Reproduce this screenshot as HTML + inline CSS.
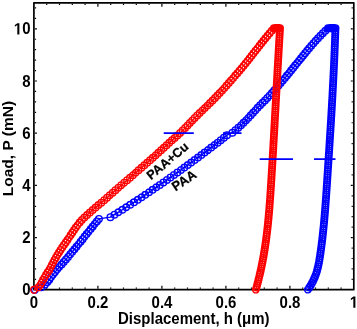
<!DOCTYPE html>
<html><head><meta charset="utf-8"><style>
html,body{margin:0;padding:0;background:#fff;width:357px;height:329px;overflow:hidden}
svg{display:block;will-change:transform}
</style></head><body>
<svg width="357" height="329" viewBox="0 0 357 329">
<rect x="33.9" y="2.8" width="319.90000000000003" height="286.9" fill="none" stroke="#000" stroke-width="1.7" stroke-linejoin="round"/>
<path d="M46.70,288.7v-1.2M46.70,3.8v1.2M59.50,288.7v-1.2M59.50,3.8v1.2M72.30,288.7v-1.2M72.30,3.8v1.2M85.10,288.7v-1.2M85.10,3.8v1.2M97.90,288.7v-3M97.90,3.8v3M110.70,288.7v-1.2M110.70,3.8v1.2M123.50,288.7v-1.2M123.50,3.8v1.2M136.30,288.7v-1.2M136.30,3.8v1.2M149.10,288.7v-1.2M149.10,3.8v1.2M161.90,288.7v-3M161.90,3.8v3M174.70,288.7v-1.2M174.70,3.8v1.2M187.50,288.7v-1.2M187.50,3.8v1.2M200.30,288.7v-1.2M200.30,3.8v1.2M213.10,288.7v-1.2M213.10,3.8v1.2M225.90,288.7v-3M225.90,3.8v3M238.70,288.7v-1.2M238.70,3.8v1.2M251.50,288.7v-1.2M251.50,3.8v1.2M264.30,288.7v-1.2M264.30,3.8v1.2M277.10,288.7v-1.2M277.10,3.8v1.2M289.90,288.7v-3M289.90,3.8v3M302.70,288.7v-1.2M302.70,3.8v1.2M315.50,288.7v-1.2M315.50,3.8v1.2M328.30,288.7v-1.2M328.30,3.8v1.2M341.10,288.7v-1.2M341.10,3.8v1.2M34.9,279.36h1.2M352.8,279.36h-1.2M34.9,268.92h1.2M352.8,268.92h-1.2M34.9,258.48h1.2M352.8,258.48h-1.2M34.9,248.04h1.2M352.8,248.04h-1.2M34.9,237.60h2M352.8,237.60h-2M34.9,227.16h1.2M352.8,227.16h-1.2M34.9,216.72h1.2M352.8,216.72h-1.2M34.9,206.28h1.2M352.8,206.28h-1.2M34.9,195.84h1.2M352.8,195.84h-1.2M34.9,185.40h2M352.8,185.40h-2M34.9,174.96h1.2M352.8,174.96h-1.2M34.9,164.52h1.2M352.8,164.52h-1.2M34.9,154.08h1.2M352.8,154.08h-1.2M34.9,143.64h1.2M352.8,143.64h-1.2M34.9,133.20h2M352.8,133.20h-2M34.9,122.76h1.2M352.8,122.76h-1.2M34.9,112.32h1.2M352.8,112.32h-1.2M34.9,101.88h1.2M352.8,101.88h-1.2M34.9,91.44h1.2M352.8,91.44h-1.2M34.9,81.00h2M352.8,81.00h-2M34.9,70.56h1.2M352.8,70.56h-1.2M34.9,60.12h1.2M352.8,60.12h-1.2M34.9,49.68h1.2M352.8,49.68h-1.2M34.9,39.24h1.2M352.8,39.24h-1.2M34.9,28.80h2M352.8,28.80h-2M34.9,18.36h1.2M352.8,18.36h-1.2M34.9,7.92h1.2M352.8,7.92h-1.2" stroke="#000" stroke-width="1.2" fill="none"/>
<path d="M34.94,289.80L41.20,287.27L45.10,284.74L47.51,282.20L49.30,279.67L51.12,277.14L53.07,274.61L55.10,272.07L57.21,269.54L59.37,267.01L61.56,264.48L63.76,261.95L65.95,259.41L68.11,256.88L70.24,254.35L72.34,251.82L74.43,249.29L76.50,246.75L78.55,244.22L80.59,241.69L82.62,239.16L84.65,236.62L86.67,234.09L88.70,231.56L90.72,229.03L92.75,226.50L94.80,223.96L96.85,221.43L98.92,218.90L110.39,217.20L114.44,214.71L118.44,212.23L122.40,209.74L126.31,207.26L130.18,204.77L134.00,202.29L137.79,199.80L141.54,197.32L145.25,194.83L148.94,192.34L152.59,189.86L156.21,187.37L159.80,184.89L163.37,182.40L166.91,179.92L170.43,177.43L173.93,174.95L177.42,172.46L180.88,169.97L184.33,167.49L187.77,165.00L191.18,162.52L194.58,160.03L197.95,157.55L201.30,155.06L204.62,152.58L207.92,150.09L211.18,147.61L214.41,145.12L217.61,142.63L220.76,140.15L223.88,137.66L226.96,135.18L232.40,132.69L235.39,130.21L238.34,127.72L241.01,125.24L243.54,122.75L246.02,120.26L248.44,117.78L250.81,115.29L253.13,112.81L255.40,110.32L257.64,107.84L260.13,105.35L262.57,102.87L264.97,100.38L267.33,97.89L269.65,95.41L271.93,92.92L274.18,90.44L276.39,87.95L278.57,85.47L280.72,82.98L282.85,80.50L284.94,78.01L287.01,75.53L289.06,73.04L291.08,70.55L293.09,68.07L295.08,65.58L297.06,63.10L299.05,60.61L301.04,58.13L303.04,55.64L305.07,53.16L307.12,50.67L309.21,48.18L311.34,45.70L313.52,43.21L315.75,40.73L318.05,38.24L320.42,35.76L322.87,33.27L325.39,30.79L328.01,28.30L329.29,28.30L330.17,28.30L331.06,28.30L331.95,28.30L332.84,28.30L333.73,28.30L334.61,28.30L335.50,28.30L335.35,30.41L335.28,32.51L335.21,34.62L335.14,36.73L335.06,38.84L334.99,40.94L334.91,43.05L334.83,45.16L334.74,47.27L334.66,49.37L334.58,51.48L334.49,53.59L334.40,55.69L334.31,57.80L334.22,59.91L334.12,62.02L334.03,64.12L333.93,66.23L333.83,68.34L333.73,70.45L333.63,72.55L333.53,74.66L333.42,76.77L333.32,78.87L333.21,80.98L333.10,83.09L332.99,85.20L332.88,87.30L332.77,89.41L332.66,91.52L332.54,93.62L332.43,95.73L332.31,97.84L332.20,99.95L332.08,102.05L331.96,104.16L331.84,106.27L331.72,108.38L331.59,110.48L331.47,112.59L331.35,114.70L331.22,116.80L331.09,118.91L330.97,121.02L330.84,123.13L330.71,125.23L330.58,127.34L330.45,129.45L330.32,131.56L330.19,133.66L330.06,135.77L329.93,137.88L329.79,139.98L329.66,142.09L329.53,144.20L329.39,146.31L329.26,148.41L329.12,150.52L328.99,152.63L328.85,154.74L328.71,156.84L328.58,158.95L328.44,161.06L328.30,163.16L328.16,165.27L328.03,167.38L327.89,169.49L327.75,171.59L327.61,173.70L327.47,175.81L327.33,177.92L327.20,180.02L327.06,182.13L326.92,184.24L326.78,186.34L326.64,188.45L326.50,190.56L326.35,192.67L326.21,194.77L326.06,196.88L325.91,198.99L325.76,201.10L325.61,203.20L325.45,205.31L325.29,207.42L325.13,209.52L324.96,211.63L324.79,213.74L324.61,215.85L324.43,217.95L324.24,220.06L324.05,222.17L323.85,224.28L323.65,226.38L323.44,228.49L323.22,230.60L323.00,232.70L322.77,234.81L322.54,236.92L322.29,239.03L322.04,241.13L321.78,243.24L321.51,245.35L321.24,247.45L320.95,249.56L320.66,251.67L320.35,253.78L320.04,255.88L319.71,257.99L319.36,260.10L318.99,262.21L318.57,264.31L318.12,266.42L317.60,268.53L317.03,270.63L316.39,272.74L315.68,274.85L314.87,276.96L313.98,279.06L312.99,281.17L311.89,283.28L310.67,285.39L309.33,287.49L307.86,289.60" fill="none" stroke="#0000ff" stroke-width="1.4"/>
<path d="M31.64,289.80a3.3,3.3 0 1,0 6.6,0a3.3,3.3 0 1,0 -6.6,0M37.90,287.27a3.3,3.3 0 1,0 6.6,0a3.3,3.3 0 1,0 -6.6,0M41.80,284.74a3.3,3.3 0 1,0 6.6,0a3.3,3.3 0 1,0 -6.6,0M44.21,282.20a3.3,3.3 0 1,0 6.6,0a3.3,3.3 0 1,0 -6.6,0M46.00,279.67a3.3,3.3 0 1,0 6.6,0a3.3,3.3 0 1,0 -6.6,0M47.82,277.14a3.3,3.3 0 1,0 6.6,0a3.3,3.3 0 1,0 -6.6,0M49.77,274.61a3.3,3.3 0 1,0 6.6,0a3.3,3.3 0 1,0 -6.6,0M51.80,272.07a3.3,3.3 0 1,0 6.6,0a3.3,3.3 0 1,0 -6.6,0M53.91,269.54a3.3,3.3 0 1,0 6.6,0a3.3,3.3 0 1,0 -6.6,0M56.07,267.01a3.3,3.3 0 1,0 6.6,0a3.3,3.3 0 1,0 -6.6,0M58.26,264.48a3.3,3.3 0 1,0 6.6,0a3.3,3.3 0 1,0 -6.6,0M60.46,261.95a3.3,3.3 0 1,0 6.6,0a3.3,3.3 0 1,0 -6.6,0M62.65,259.41a3.3,3.3 0 1,0 6.6,0a3.3,3.3 0 1,0 -6.6,0M64.81,256.88a3.3,3.3 0 1,0 6.6,0a3.3,3.3 0 1,0 -6.6,0M66.94,254.35a3.3,3.3 0 1,0 6.6,0a3.3,3.3 0 1,0 -6.6,0M69.04,251.82a3.3,3.3 0 1,0 6.6,0a3.3,3.3 0 1,0 -6.6,0M71.13,249.29a3.3,3.3 0 1,0 6.6,0a3.3,3.3 0 1,0 -6.6,0M73.20,246.75a3.3,3.3 0 1,0 6.6,0a3.3,3.3 0 1,0 -6.6,0M75.25,244.22a3.3,3.3 0 1,0 6.6,0a3.3,3.3 0 1,0 -6.6,0M77.29,241.69a3.3,3.3 0 1,0 6.6,0a3.3,3.3 0 1,0 -6.6,0M79.32,239.16a3.3,3.3 0 1,0 6.6,0a3.3,3.3 0 1,0 -6.6,0M81.35,236.62a3.3,3.3 0 1,0 6.6,0a3.3,3.3 0 1,0 -6.6,0M83.37,234.09a3.3,3.3 0 1,0 6.6,0a3.3,3.3 0 1,0 -6.6,0M85.40,231.56a3.3,3.3 0 1,0 6.6,0a3.3,3.3 0 1,0 -6.6,0M87.42,229.03a3.3,3.3 0 1,0 6.6,0a3.3,3.3 0 1,0 -6.6,0M89.45,226.50a3.3,3.3 0 1,0 6.6,0a3.3,3.3 0 1,0 -6.6,0M91.50,223.96a3.3,3.3 0 1,0 6.6,0a3.3,3.3 0 1,0 -6.6,0M93.55,221.43a3.3,3.3 0 1,0 6.6,0a3.3,3.3 0 1,0 -6.6,0M95.62,218.90a3.3,3.3 0 1,0 6.6,0a3.3,3.3 0 1,0 -6.6,0M107.09,217.20a3.3,3.3 0 1,0 6.6,0a3.3,3.3 0 1,0 -6.6,0M111.14,214.71a3.3,3.3 0 1,0 6.6,0a3.3,3.3 0 1,0 -6.6,0M115.14,212.23a3.3,3.3 0 1,0 6.6,0a3.3,3.3 0 1,0 -6.6,0M119.10,209.74a3.3,3.3 0 1,0 6.6,0a3.3,3.3 0 1,0 -6.6,0M123.01,207.26a3.3,3.3 0 1,0 6.6,0a3.3,3.3 0 1,0 -6.6,0M126.88,204.77a3.3,3.3 0 1,0 6.6,0a3.3,3.3 0 1,0 -6.6,0M130.70,202.29a3.3,3.3 0 1,0 6.6,0a3.3,3.3 0 1,0 -6.6,0M134.49,199.80a3.3,3.3 0 1,0 6.6,0a3.3,3.3 0 1,0 -6.6,0M138.24,197.32a3.3,3.3 0 1,0 6.6,0a3.3,3.3 0 1,0 -6.6,0M141.95,194.83a3.3,3.3 0 1,0 6.6,0a3.3,3.3 0 1,0 -6.6,0M145.64,192.34a3.3,3.3 0 1,0 6.6,0a3.3,3.3 0 1,0 -6.6,0M149.29,189.86a3.3,3.3 0 1,0 6.6,0a3.3,3.3 0 1,0 -6.6,0M152.91,187.37a3.3,3.3 0 1,0 6.6,0a3.3,3.3 0 1,0 -6.6,0M156.50,184.89a3.3,3.3 0 1,0 6.6,0a3.3,3.3 0 1,0 -6.6,0M160.07,182.40a3.3,3.3 0 1,0 6.6,0a3.3,3.3 0 1,0 -6.6,0M163.61,179.92a3.3,3.3 0 1,0 6.6,0a3.3,3.3 0 1,0 -6.6,0M167.13,177.43a3.3,3.3 0 1,0 6.6,0a3.3,3.3 0 1,0 -6.6,0M170.63,174.95a3.3,3.3 0 1,0 6.6,0a3.3,3.3 0 1,0 -6.6,0M174.12,172.46a3.3,3.3 0 1,0 6.6,0a3.3,3.3 0 1,0 -6.6,0M177.58,169.97a3.3,3.3 0 1,0 6.6,0a3.3,3.3 0 1,0 -6.6,0M181.03,167.49a3.3,3.3 0 1,0 6.6,0a3.3,3.3 0 1,0 -6.6,0M184.47,165.00a3.3,3.3 0 1,0 6.6,0a3.3,3.3 0 1,0 -6.6,0M187.88,162.52a3.3,3.3 0 1,0 6.6,0a3.3,3.3 0 1,0 -6.6,0M191.28,160.03a3.3,3.3 0 1,0 6.6,0a3.3,3.3 0 1,0 -6.6,0M194.65,157.55a3.3,3.3 0 1,0 6.6,0a3.3,3.3 0 1,0 -6.6,0M198.00,155.06a3.3,3.3 0 1,0 6.6,0a3.3,3.3 0 1,0 -6.6,0M201.32,152.58a3.3,3.3 0 1,0 6.6,0a3.3,3.3 0 1,0 -6.6,0M204.62,150.09a3.3,3.3 0 1,0 6.6,0a3.3,3.3 0 1,0 -6.6,0M207.88,147.61a3.3,3.3 0 1,0 6.6,0a3.3,3.3 0 1,0 -6.6,0M211.11,145.12a3.3,3.3 0 1,0 6.6,0a3.3,3.3 0 1,0 -6.6,0M214.31,142.63a3.3,3.3 0 1,0 6.6,0a3.3,3.3 0 1,0 -6.6,0M217.46,140.15a3.3,3.3 0 1,0 6.6,0a3.3,3.3 0 1,0 -6.6,0M220.58,137.66a3.3,3.3 0 1,0 6.6,0a3.3,3.3 0 1,0 -6.6,0M223.66,135.18a3.3,3.3 0 1,0 6.6,0a3.3,3.3 0 1,0 -6.6,0M229.10,132.69a3.3,3.3 0 1,0 6.6,0a3.3,3.3 0 1,0 -6.6,0M232.09,130.21a3.3,3.3 0 1,0 6.6,0a3.3,3.3 0 1,0 -6.6,0M235.04,127.72a3.3,3.3 0 1,0 6.6,0a3.3,3.3 0 1,0 -6.6,0M237.71,125.24a3.3,3.3 0 1,0 6.6,0a3.3,3.3 0 1,0 -6.6,0M240.24,122.75a3.3,3.3 0 1,0 6.6,0a3.3,3.3 0 1,0 -6.6,0M242.72,120.26a3.3,3.3 0 1,0 6.6,0a3.3,3.3 0 1,0 -6.6,0M245.14,117.78a3.3,3.3 0 1,0 6.6,0a3.3,3.3 0 1,0 -6.6,0M247.51,115.29a3.3,3.3 0 1,0 6.6,0a3.3,3.3 0 1,0 -6.6,0M249.83,112.81a3.3,3.3 0 1,0 6.6,0a3.3,3.3 0 1,0 -6.6,0M252.10,110.32a3.3,3.3 0 1,0 6.6,0a3.3,3.3 0 1,0 -6.6,0M254.34,107.84a3.3,3.3 0 1,0 6.6,0a3.3,3.3 0 1,0 -6.6,0M256.83,105.35a3.3,3.3 0 1,0 6.6,0a3.3,3.3 0 1,0 -6.6,0M259.27,102.87a3.3,3.3 0 1,0 6.6,0a3.3,3.3 0 1,0 -6.6,0M261.67,100.38a3.3,3.3 0 1,0 6.6,0a3.3,3.3 0 1,0 -6.6,0M264.03,97.89a3.3,3.3 0 1,0 6.6,0a3.3,3.3 0 1,0 -6.6,0M266.35,95.41a3.3,3.3 0 1,0 6.6,0a3.3,3.3 0 1,0 -6.6,0M268.63,92.92a3.3,3.3 0 1,0 6.6,0a3.3,3.3 0 1,0 -6.6,0M270.88,90.44a3.3,3.3 0 1,0 6.6,0a3.3,3.3 0 1,0 -6.6,0M273.09,87.95a3.3,3.3 0 1,0 6.6,0a3.3,3.3 0 1,0 -6.6,0M275.27,85.47a3.3,3.3 0 1,0 6.6,0a3.3,3.3 0 1,0 -6.6,0M277.42,82.98a3.3,3.3 0 1,0 6.6,0a3.3,3.3 0 1,0 -6.6,0M279.55,80.50a3.3,3.3 0 1,0 6.6,0a3.3,3.3 0 1,0 -6.6,0M281.64,78.01a3.3,3.3 0 1,0 6.6,0a3.3,3.3 0 1,0 -6.6,0M283.71,75.53a3.3,3.3 0 1,0 6.6,0a3.3,3.3 0 1,0 -6.6,0M285.76,73.04a3.3,3.3 0 1,0 6.6,0a3.3,3.3 0 1,0 -6.6,0M287.78,70.55a3.3,3.3 0 1,0 6.6,0a3.3,3.3 0 1,0 -6.6,0M289.79,68.07a3.3,3.3 0 1,0 6.6,0a3.3,3.3 0 1,0 -6.6,0M291.78,65.58a3.3,3.3 0 1,0 6.6,0a3.3,3.3 0 1,0 -6.6,0M293.76,63.10a3.3,3.3 0 1,0 6.6,0a3.3,3.3 0 1,0 -6.6,0M295.75,60.61a3.3,3.3 0 1,0 6.6,0a3.3,3.3 0 1,0 -6.6,0M297.74,58.13a3.3,3.3 0 1,0 6.6,0a3.3,3.3 0 1,0 -6.6,0M299.74,55.64a3.3,3.3 0 1,0 6.6,0a3.3,3.3 0 1,0 -6.6,0M301.77,53.16a3.3,3.3 0 1,0 6.6,0a3.3,3.3 0 1,0 -6.6,0M303.82,50.67a3.3,3.3 0 1,0 6.6,0a3.3,3.3 0 1,0 -6.6,0M305.91,48.18a3.3,3.3 0 1,0 6.6,0a3.3,3.3 0 1,0 -6.6,0M308.04,45.70a3.3,3.3 0 1,0 6.6,0a3.3,3.3 0 1,0 -6.6,0M310.22,43.21a3.3,3.3 0 1,0 6.6,0a3.3,3.3 0 1,0 -6.6,0M312.45,40.73a3.3,3.3 0 1,0 6.6,0a3.3,3.3 0 1,0 -6.6,0M314.75,38.24a3.3,3.3 0 1,0 6.6,0a3.3,3.3 0 1,0 -6.6,0M317.12,35.76a3.3,3.3 0 1,0 6.6,0a3.3,3.3 0 1,0 -6.6,0M319.57,33.27a3.3,3.3 0 1,0 6.6,0a3.3,3.3 0 1,0 -6.6,0M322.09,30.79a3.3,3.3 0 1,0 6.6,0a3.3,3.3 0 1,0 -6.6,0M324.71,28.30a3.3,3.3 0 1,0 6.6,0a3.3,3.3 0 1,0 -6.6,0M325.99,28.30a3.3,3.3 0 1,0 6.6,0a3.3,3.3 0 1,0 -6.6,0M326.87,28.30a3.3,3.3 0 1,0 6.6,0a3.3,3.3 0 1,0 -6.6,0M327.76,28.30a3.3,3.3 0 1,0 6.6,0a3.3,3.3 0 1,0 -6.6,0M328.65,28.30a3.3,3.3 0 1,0 6.6,0a3.3,3.3 0 1,0 -6.6,0M329.54,28.30a3.3,3.3 0 1,0 6.6,0a3.3,3.3 0 1,0 -6.6,0M330.43,28.30a3.3,3.3 0 1,0 6.6,0a3.3,3.3 0 1,0 -6.6,0M331.31,28.30a3.3,3.3 0 1,0 6.6,0a3.3,3.3 0 1,0 -6.6,0M332.20,28.30a3.3,3.3 0 1,0 6.6,0a3.3,3.3 0 1,0 -6.6,0M332.05,30.41a3.3,3.3 0 1,0 6.6,0a3.3,3.3 0 1,0 -6.6,0M331.98,32.51a3.3,3.3 0 1,0 6.6,0a3.3,3.3 0 1,0 -6.6,0M331.91,34.62a3.3,3.3 0 1,0 6.6,0a3.3,3.3 0 1,0 -6.6,0M331.84,36.73a3.3,3.3 0 1,0 6.6,0a3.3,3.3 0 1,0 -6.6,0M331.76,38.84a3.3,3.3 0 1,0 6.6,0a3.3,3.3 0 1,0 -6.6,0M331.69,40.94a3.3,3.3 0 1,0 6.6,0a3.3,3.3 0 1,0 -6.6,0M331.61,43.05a3.3,3.3 0 1,0 6.6,0a3.3,3.3 0 1,0 -6.6,0M331.53,45.16a3.3,3.3 0 1,0 6.6,0a3.3,3.3 0 1,0 -6.6,0M331.44,47.27a3.3,3.3 0 1,0 6.6,0a3.3,3.3 0 1,0 -6.6,0M331.36,49.37a3.3,3.3 0 1,0 6.6,0a3.3,3.3 0 1,0 -6.6,0M331.28,51.48a3.3,3.3 0 1,0 6.6,0a3.3,3.3 0 1,0 -6.6,0M331.19,53.59a3.3,3.3 0 1,0 6.6,0a3.3,3.3 0 1,0 -6.6,0M331.10,55.69a3.3,3.3 0 1,0 6.6,0a3.3,3.3 0 1,0 -6.6,0M331.01,57.80a3.3,3.3 0 1,0 6.6,0a3.3,3.3 0 1,0 -6.6,0M330.92,59.91a3.3,3.3 0 1,0 6.6,0a3.3,3.3 0 1,0 -6.6,0M330.82,62.02a3.3,3.3 0 1,0 6.6,0a3.3,3.3 0 1,0 -6.6,0M330.73,64.12a3.3,3.3 0 1,0 6.6,0a3.3,3.3 0 1,0 -6.6,0M330.63,66.23a3.3,3.3 0 1,0 6.6,0a3.3,3.3 0 1,0 -6.6,0M330.53,68.34a3.3,3.3 0 1,0 6.6,0a3.3,3.3 0 1,0 -6.6,0M330.43,70.45a3.3,3.3 0 1,0 6.6,0a3.3,3.3 0 1,0 -6.6,0M330.33,72.55a3.3,3.3 0 1,0 6.6,0a3.3,3.3 0 1,0 -6.6,0M330.23,74.66a3.3,3.3 0 1,0 6.6,0a3.3,3.3 0 1,0 -6.6,0M330.12,76.77a3.3,3.3 0 1,0 6.6,0a3.3,3.3 0 1,0 -6.6,0M330.02,78.87a3.3,3.3 0 1,0 6.6,0a3.3,3.3 0 1,0 -6.6,0M329.91,80.98a3.3,3.3 0 1,0 6.6,0a3.3,3.3 0 1,0 -6.6,0M329.80,83.09a3.3,3.3 0 1,0 6.6,0a3.3,3.3 0 1,0 -6.6,0M329.69,85.20a3.3,3.3 0 1,0 6.6,0a3.3,3.3 0 1,0 -6.6,0M329.58,87.30a3.3,3.3 0 1,0 6.6,0a3.3,3.3 0 1,0 -6.6,0M329.47,89.41a3.3,3.3 0 1,0 6.6,0a3.3,3.3 0 1,0 -6.6,0M329.36,91.52a3.3,3.3 0 1,0 6.6,0a3.3,3.3 0 1,0 -6.6,0M329.24,93.62a3.3,3.3 0 1,0 6.6,0a3.3,3.3 0 1,0 -6.6,0M329.13,95.73a3.3,3.3 0 1,0 6.6,0a3.3,3.3 0 1,0 -6.6,0M329.01,97.84a3.3,3.3 0 1,0 6.6,0a3.3,3.3 0 1,0 -6.6,0M328.90,99.95a3.3,3.3 0 1,0 6.6,0a3.3,3.3 0 1,0 -6.6,0M328.78,102.05a3.3,3.3 0 1,0 6.6,0a3.3,3.3 0 1,0 -6.6,0M328.66,104.16a3.3,3.3 0 1,0 6.6,0a3.3,3.3 0 1,0 -6.6,0M328.54,106.27a3.3,3.3 0 1,0 6.6,0a3.3,3.3 0 1,0 -6.6,0M328.42,108.38a3.3,3.3 0 1,0 6.6,0a3.3,3.3 0 1,0 -6.6,0M328.29,110.48a3.3,3.3 0 1,0 6.6,0a3.3,3.3 0 1,0 -6.6,0M328.17,112.59a3.3,3.3 0 1,0 6.6,0a3.3,3.3 0 1,0 -6.6,0M328.05,114.70a3.3,3.3 0 1,0 6.6,0a3.3,3.3 0 1,0 -6.6,0M327.92,116.80a3.3,3.3 0 1,0 6.6,0a3.3,3.3 0 1,0 -6.6,0M327.79,118.91a3.3,3.3 0 1,0 6.6,0a3.3,3.3 0 1,0 -6.6,0M327.67,121.02a3.3,3.3 0 1,0 6.6,0a3.3,3.3 0 1,0 -6.6,0M327.54,123.13a3.3,3.3 0 1,0 6.6,0a3.3,3.3 0 1,0 -6.6,0M327.41,125.23a3.3,3.3 0 1,0 6.6,0a3.3,3.3 0 1,0 -6.6,0M327.28,127.34a3.3,3.3 0 1,0 6.6,0a3.3,3.3 0 1,0 -6.6,0M327.15,129.45a3.3,3.3 0 1,0 6.6,0a3.3,3.3 0 1,0 -6.6,0M327.02,131.56a3.3,3.3 0 1,0 6.6,0a3.3,3.3 0 1,0 -6.6,0M326.89,133.66a3.3,3.3 0 1,0 6.6,0a3.3,3.3 0 1,0 -6.6,0M326.76,135.77a3.3,3.3 0 1,0 6.6,0a3.3,3.3 0 1,0 -6.6,0M326.63,137.88a3.3,3.3 0 1,0 6.6,0a3.3,3.3 0 1,0 -6.6,0M326.49,139.98a3.3,3.3 0 1,0 6.6,0a3.3,3.3 0 1,0 -6.6,0M326.36,142.09a3.3,3.3 0 1,0 6.6,0a3.3,3.3 0 1,0 -6.6,0M326.23,144.20a3.3,3.3 0 1,0 6.6,0a3.3,3.3 0 1,0 -6.6,0M326.09,146.31a3.3,3.3 0 1,0 6.6,0a3.3,3.3 0 1,0 -6.6,0M325.96,148.41a3.3,3.3 0 1,0 6.6,0a3.3,3.3 0 1,0 -6.6,0M325.82,150.52a3.3,3.3 0 1,0 6.6,0a3.3,3.3 0 1,0 -6.6,0M325.69,152.63a3.3,3.3 0 1,0 6.6,0a3.3,3.3 0 1,0 -6.6,0M325.55,154.74a3.3,3.3 0 1,0 6.6,0a3.3,3.3 0 1,0 -6.6,0M325.41,156.84a3.3,3.3 0 1,0 6.6,0a3.3,3.3 0 1,0 -6.6,0M325.28,158.95a3.3,3.3 0 1,0 6.6,0a3.3,3.3 0 1,0 -6.6,0M325.14,161.06a3.3,3.3 0 1,0 6.6,0a3.3,3.3 0 1,0 -6.6,0M325.00,163.16a3.3,3.3 0 1,0 6.6,0a3.3,3.3 0 1,0 -6.6,0M324.86,165.27a3.3,3.3 0 1,0 6.6,0a3.3,3.3 0 1,0 -6.6,0M324.73,167.38a3.3,3.3 0 1,0 6.6,0a3.3,3.3 0 1,0 -6.6,0M324.59,169.49a3.3,3.3 0 1,0 6.6,0a3.3,3.3 0 1,0 -6.6,0M324.45,171.59a3.3,3.3 0 1,0 6.6,0a3.3,3.3 0 1,0 -6.6,0M324.31,173.70a3.3,3.3 0 1,0 6.6,0a3.3,3.3 0 1,0 -6.6,0M324.17,175.81a3.3,3.3 0 1,0 6.6,0a3.3,3.3 0 1,0 -6.6,0M324.03,177.92a3.3,3.3 0 1,0 6.6,0a3.3,3.3 0 1,0 -6.6,0M323.90,180.02a3.3,3.3 0 1,0 6.6,0a3.3,3.3 0 1,0 -6.6,0M323.76,182.13a3.3,3.3 0 1,0 6.6,0a3.3,3.3 0 1,0 -6.6,0M323.62,184.24a3.3,3.3 0 1,0 6.6,0a3.3,3.3 0 1,0 -6.6,0M323.48,186.34a3.3,3.3 0 1,0 6.6,0a3.3,3.3 0 1,0 -6.6,0M323.34,188.45a3.3,3.3 0 1,0 6.6,0a3.3,3.3 0 1,0 -6.6,0M323.20,190.56a3.3,3.3 0 1,0 6.6,0a3.3,3.3 0 1,0 -6.6,0M323.05,192.67a3.3,3.3 0 1,0 6.6,0a3.3,3.3 0 1,0 -6.6,0M322.91,194.77a3.3,3.3 0 1,0 6.6,0a3.3,3.3 0 1,0 -6.6,0M322.76,196.88a3.3,3.3 0 1,0 6.6,0a3.3,3.3 0 1,0 -6.6,0M322.61,198.99a3.3,3.3 0 1,0 6.6,0a3.3,3.3 0 1,0 -6.6,0M322.46,201.10a3.3,3.3 0 1,0 6.6,0a3.3,3.3 0 1,0 -6.6,0M322.31,203.20a3.3,3.3 0 1,0 6.6,0a3.3,3.3 0 1,0 -6.6,0M322.15,205.31a3.3,3.3 0 1,0 6.6,0a3.3,3.3 0 1,0 -6.6,0M321.99,207.42a3.3,3.3 0 1,0 6.6,0a3.3,3.3 0 1,0 -6.6,0M321.83,209.52a3.3,3.3 0 1,0 6.6,0a3.3,3.3 0 1,0 -6.6,0M321.66,211.63a3.3,3.3 0 1,0 6.6,0a3.3,3.3 0 1,0 -6.6,0M321.49,213.74a3.3,3.3 0 1,0 6.6,0a3.3,3.3 0 1,0 -6.6,0M321.31,215.85a3.3,3.3 0 1,0 6.6,0a3.3,3.3 0 1,0 -6.6,0M321.13,217.95a3.3,3.3 0 1,0 6.6,0a3.3,3.3 0 1,0 -6.6,0M320.94,220.06a3.3,3.3 0 1,0 6.6,0a3.3,3.3 0 1,0 -6.6,0M320.75,222.17a3.3,3.3 0 1,0 6.6,0a3.3,3.3 0 1,0 -6.6,0M320.55,224.28a3.3,3.3 0 1,0 6.6,0a3.3,3.3 0 1,0 -6.6,0M320.35,226.38a3.3,3.3 0 1,0 6.6,0a3.3,3.3 0 1,0 -6.6,0M320.14,228.49a3.3,3.3 0 1,0 6.6,0a3.3,3.3 0 1,0 -6.6,0M319.92,230.60a3.3,3.3 0 1,0 6.6,0a3.3,3.3 0 1,0 -6.6,0M319.70,232.70a3.3,3.3 0 1,0 6.6,0a3.3,3.3 0 1,0 -6.6,0M319.47,234.81a3.3,3.3 0 1,0 6.6,0a3.3,3.3 0 1,0 -6.6,0M319.24,236.92a3.3,3.3 0 1,0 6.6,0a3.3,3.3 0 1,0 -6.6,0M318.99,239.03a3.3,3.3 0 1,0 6.6,0a3.3,3.3 0 1,0 -6.6,0M318.74,241.13a3.3,3.3 0 1,0 6.6,0a3.3,3.3 0 1,0 -6.6,0M318.48,243.24a3.3,3.3 0 1,0 6.6,0a3.3,3.3 0 1,0 -6.6,0M318.21,245.35a3.3,3.3 0 1,0 6.6,0a3.3,3.3 0 1,0 -6.6,0M317.94,247.45a3.3,3.3 0 1,0 6.6,0a3.3,3.3 0 1,0 -6.6,0M317.65,249.56a3.3,3.3 0 1,0 6.6,0a3.3,3.3 0 1,0 -6.6,0M317.36,251.67a3.3,3.3 0 1,0 6.6,0a3.3,3.3 0 1,0 -6.6,0M317.05,253.78a3.3,3.3 0 1,0 6.6,0a3.3,3.3 0 1,0 -6.6,0M316.74,255.88a3.3,3.3 0 1,0 6.6,0a3.3,3.3 0 1,0 -6.6,0M316.41,257.99a3.3,3.3 0 1,0 6.6,0a3.3,3.3 0 1,0 -6.6,0M316.06,260.10a3.3,3.3 0 1,0 6.6,0a3.3,3.3 0 1,0 -6.6,0M315.69,262.21a3.3,3.3 0 1,0 6.6,0a3.3,3.3 0 1,0 -6.6,0M315.27,264.31a3.3,3.3 0 1,0 6.6,0a3.3,3.3 0 1,0 -6.6,0M314.82,266.42a3.3,3.3 0 1,0 6.6,0a3.3,3.3 0 1,0 -6.6,0M314.30,268.53a3.3,3.3 0 1,0 6.6,0a3.3,3.3 0 1,0 -6.6,0M313.73,270.63a3.3,3.3 0 1,0 6.6,0a3.3,3.3 0 1,0 -6.6,0M313.09,272.74a3.3,3.3 0 1,0 6.6,0a3.3,3.3 0 1,0 -6.6,0M312.38,274.85a3.3,3.3 0 1,0 6.6,0a3.3,3.3 0 1,0 -6.6,0M311.57,276.96a3.3,3.3 0 1,0 6.6,0a3.3,3.3 0 1,0 -6.6,0M310.68,279.06a3.3,3.3 0 1,0 6.6,0a3.3,3.3 0 1,0 -6.6,0M309.69,281.17a3.3,3.3 0 1,0 6.6,0a3.3,3.3 0 1,0 -6.6,0M308.59,283.28a3.3,3.3 0 1,0 6.6,0a3.3,3.3 0 1,0 -6.6,0M307.37,285.39a3.3,3.3 0 1,0 6.6,0a3.3,3.3 0 1,0 -6.6,0M306.03,287.49a3.3,3.3 0 1,0 6.6,0a3.3,3.3 0 1,0 -6.6,0M304.56,289.60a3.3,3.3 0 1,0 6.6,0a3.3,3.3 0 1,0 -6.6,0" fill="none" stroke="#0000ff" stroke-width="1.4"/>
<path d="M34.00,289.80L38.26,287.31L40.33,284.82L41.73,282.33L43.10,279.84L44.59,277.35L46.09,274.86L47.71,272.37L49.27,269.88L50.65,267.39L51.93,264.90L53.20,262.40L54.55,259.91L55.97,257.42L57.44,254.93L58.96,252.44L60.53,249.95L62.19,247.46L63.92,244.97L65.68,242.48L67.41,239.99L69.08,237.50L70.73,235.01L72.39,232.52L74.08,230.03L75.78,227.54L77.59,225.05L79.62,222.56L81.86,220.07L84.35,217.58L87.06,215.09L89.88,212.60L92.71,210.10L95.54,207.61L98.42,205.12L101.32,202.63L104.19,200.14L107.01,197.65L109.81,195.16L112.61,192.67L115.44,190.18L118.33,187.69L121.26,185.20L124.19,182.71L127.11,180.22L129.98,177.73L132.85,175.24L135.70,172.75L138.55,170.26L141.42,167.77L144.29,165.28L147.16,162.79L150.00,160.30L152.80,157.80L155.59,155.31L158.35,152.82L161.10,150.33L163.84,147.84L166.57,145.35L169.28,142.86L171.98,140.37L174.68,137.88L177.38,135.39L180.05,132.90L182.64,130.41L185.13,127.92L187.52,125.43L189.89,122.94L192.28,120.45L194.73,117.96L197.21,115.47L199.71,112.98L202.23,110.49L204.79,108.00L207.41,105.50L210.02,103.01L212.57,100.52L215.02,98.03L217.42,95.54L219.77,93.05L222.08,90.56L224.37,88.07L226.61,85.58L228.83,83.09L231.02,80.60L233.18,78.11L235.30,75.62L237.40,73.13L239.49,70.64L241.56,68.15L243.62,65.66L245.66,63.17L247.68,60.68L249.66,58.19L251.61,55.70L253.54,53.20L255.49,50.71L257.45,48.22L259.43,45.73L261.41,43.24L263.43,40.75L265.47,38.26L267.54,35.77L269.64,33.28L271.76,30.79L273.90,28.30L274.93,28.30L275.65,28.30L276.38,28.30L277.10,28.30L277.82,28.30L278.55,28.30L279.27,28.30L280.00,28.30L279.88,30.41L279.75,32.51L279.62,34.62L279.50,36.73L279.37,38.84L279.25,40.94L279.13,43.05L279.00,45.16L278.88,47.27L278.76,49.37L278.64,51.48L278.52,53.59L278.40,55.69L278.28,57.80L278.16,59.91L278.04,62.02L277.92,64.12L277.80,66.23L277.68,68.34L277.56,70.45L277.44,72.55L277.32,74.66L277.21,76.77L277.09,78.87L276.97,80.98L276.85,83.09L276.74,85.20L276.62,87.30L276.50,89.41L276.39,91.52L276.27,93.62L276.15,95.73L276.04,97.84L275.92,99.95L275.80,102.05L275.69,104.16L275.57,106.27L275.46,108.38L275.34,110.48L275.22,112.59L275.10,114.70L274.99,116.80L274.87,118.91L274.75,121.02L274.64,123.13L274.52,125.23L274.40,127.34L274.28,129.45L274.16,131.56L274.04,133.66L273.92,135.77L273.81,137.88L273.69,139.98L273.57,142.09L273.44,144.20L273.32,146.31L273.20,148.41L273.08,150.52L272.96,152.63L272.83,154.74L272.71,156.84L272.59,158.95L272.46,161.06L272.34,163.16L272.21,165.27L272.09,167.38L271.96,169.49L271.83,171.59L271.70,173.70L271.57,175.81L271.44,177.92L271.31,180.02L271.18,182.13L271.05,184.24L270.92,186.34L270.78,188.45L270.64,190.56L270.51,192.67L270.36,194.77L270.22,196.88L270.07,198.99L269.92,201.10L269.76,203.20L269.60,205.31L269.43,207.42L269.26,209.52L269.09,211.63L268.90,213.74L268.72,215.85L268.52,217.95L268.32,220.06L268.11,222.17L267.90,224.28L267.68,226.38L267.45,228.49L267.21,230.60L266.96,232.70L266.70,234.81L266.44,236.92L266.16,239.03L265.88,241.13L265.58,243.24L265.28,245.35L264.96,247.45L264.63,249.56L264.29,251.67L263.94,253.78L263.58,255.88L263.20,257.99L262.81,260.10L262.41,262.21L261.99,264.31L261.56,266.42L261.12,268.53L260.66,270.63L260.18,272.74L259.70,274.85L259.19,276.96L258.67,279.06L258.14,281.17L257.58,283.28L257.01,285.39L256.43,287.49L255.82,289.60" fill="none" stroke="#ff0000" stroke-width="1.4"/>
<path d="M30.70,289.80a3.3,3.3 0 1,0 6.6,0a3.3,3.3 0 1,0 -6.6,0M34.96,287.31a3.3,3.3 0 1,0 6.6,0a3.3,3.3 0 1,0 -6.6,0M37.03,284.82a3.3,3.3 0 1,0 6.6,0a3.3,3.3 0 1,0 -6.6,0M38.43,282.33a3.3,3.3 0 1,0 6.6,0a3.3,3.3 0 1,0 -6.6,0M39.80,279.84a3.3,3.3 0 1,0 6.6,0a3.3,3.3 0 1,0 -6.6,0M41.29,277.35a3.3,3.3 0 1,0 6.6,0a3.3,3.3 0 1,0 -6.6,0M42.79,274.86a3.3,3.3 0 1,0 6.6,0a3.3,3.3 0 1,0 -6.6,0M44.41,272.37a3.3,3.3 0 1,0 6.6,0a3.3,3.3 0 1,0 -6.6,0M45.97,269.88a3.3,3.3 0 1,0 6.6,0a3.3,3.3 0 1,0 -6.6,0M47.35,267.39a3.3,3.3 0 1,0 6.6,0a3.3,3.3 0 1,0 -6.6,0M48.63,264.90a3.3,3.3 0 1,0 6.6,0a3.3,3.3 0 1,0 -6.6,0M49.90,262.40a3.3,3.3 0 1,0 6.6,0a3.3,3.3 0 1,0 -6.6,0M51.25,259.91a3.3,3.3 0 1,0 6.6,0a3.3,3.3 0 1,0 -6.6,0M52.67,257.42a3.3,3.3 0 1,0 6.6,0a3.3,3.3 0 1,0 -6.6,0M54.14,254.93a3.3,3.3 0 1,0 6.6,0a3.3,3.3 0 1,0 -6.6,0M55.66,252.44a3.3,3.3 0 1,0 6.6,0a3.3,3.3 0 1,0 -6.6,0M57.23,249.95a3.3,3.3 0 1,0 6.6,0a3.3,3.3 0 1,0 -6.6,0M58.89,247.46a3.3,3.3 0 1,0 6.6,0a3.3,3.3 0 1,0 -6.6,0M60.62,244.97a3.3,3.3 0 1,0 6.6,0a3.3,3.3 0 1,0 -6.6,0M62.38,242.48a3.3,3.3 0 1,0 6.6,0a3.3,3.3 0 1,0 -6.6,0M64.11,239.99a3.3,3.3 0 1,0 6.6,0a3.3,3.3 0 1,0 -6.6,0M65.78,237.50a3.3,3.3 0 1,0 6.6,0a3.3,3.3 0 1,0 -6.6,0M67.43,235.01a3.3,3.3 0 1,0 6.6,0a3.3,3.3 0 1,0 -6.6,0M69.09,232.52a3.3,3.3 0 1,0 6.6,0a3.3,3.3 0 1,0 -6.6,0M70.78,230.03a3.3,3.3 0 1,0 6.6,0a3.3,3.3 0 1,0 -6.6,0M72.48,227.54a3.3,3.3 0 1,0 6.6,0a3.3,3.3 0 1,0 -6.6,0M74.29,225.05a3.3,3.3 0 1,0 6.6,0a3.3,3.3 0 1,0 -6.6,0M76.32,222.56a3.3,3.3 0 1,0 6.6,0a3.3,3.3 0 1,0 -6.6,0M78.56,220.07a3.3,3.3 0 1,0 6.6,0a3.3,3.3 0 1,0 -6.6,0M81.05,217.58a3.3,3.3 0 1,0 6.6,0a3.3,3.3 0 1,0 -6.6,0M83.76,215.09a3.3,3.3 0 1,0 6.6,0a3.3,3.3 0 1,0 -6.6,0M86.58,212.60a3.3,3.3 0 1,0 6.6,0a3.3,3.3 0 1,0 -6.6,0M89.41,210.10a3.3,3.3 0 1,0 6.6,0a3.3,3.3 0 1,0 -6.6,0M92.24,207.61a3.3,3.3 0 1,0 6.6,0a3.3,3.3 0 1,0 -6.6,0M95.12,205.12a3.3,3.3 0 1,0 6.6,0a3.3,3.3 0 1,0 -6.6,0M98.02,202.63a3.3,3.3 0 1,0 6.6,0a3.3,3.3 0 1,0 -6.6,0M100.89,200.14a3.3,3.3 0 1,0 6.6,0a3.3,3.3 0 1,0 -6.6,0M103.71,197.65a3.3,3.3 0 1,0 6.6,0a3.3,3.3 0 1,0 -6.6,0M106.51,195.16a3.3,3.3 0 1,0 6.6,0a3.3,3.3 0 1,0 -6.6,0M109.31,192.67a3.3,3.3 0 1,0 6.6,0a3.3,3.3 0 1,0 -6.6,0M112.14,190.18a3.3,3.3 0 1,0 6.6,0a3.3,3.3 0 1,0 -6.6,0M115.03,187.69a3.3,3.3 0 1,0 6.6,0a3.3,3.3 0 1,0 -6.6,0M117.96,185.20a3.3,3.3 0 1,0 6.6,0a3.3,3.3 0 1,0 -6.6,0M120.89,182.71a3.3,3.3 0 1,0 6.6,0a3.3,3.3 0 1,0 -6.6,0M123.81,180.22a3.3,3.3 0 1,0 6.6,0a3.3,3.3 0 1,0 -6.6,0M126.68,177.73a3.3,3.3 0 1,0 6.6,0a3.3,3.3 0 1,0 -6.6,0M129.55,175.24a3.3,3.3 0 1,0 6.6,0a3.3,3.3 0 1,0 -6.6,0M132.40,172.75a3.3,3.3 0 1,0 6.6,0a3.3,3.3 0 1,0 -6.6,0M135.25,170.26a3.3,3.3 0 1,0 6.6,0a3.3,3.3 0 1,0 -6.6,0M138.12,167.77a3.3,3.3 0 1,0 6.6,0a3.3,3.3 0 1,0 -6.6,0M140.99,165.28a3.3,3.3 0 1,0 6.6,0a3.3,3.3 0 1,0 -6.6,0M143.86,162.79a3.3,3.3 0 1,0 6.6,0a3.3,3.3 0 1,0 -6.6,0M146.70,160.30a3.3,3.3 0 1,0 6.6,0a3.3,3.3 0 1,0 -6.6,0M149.50,157.80a3.3,3.3 0 1,0 6.6,0a3.3,3.3 0 1,0 -6.6,0M152.29,155.31a3.3,3.3 0 1,0 6.6,0a3.3,3.3 0 1,0 -6.6,0M155.05,152.82a3.3,3.3 0 1,0 6.6,0a3.3,3.3 0 1,0 -6.6,0M157.80,150.33a3.3,3.3 0 1,0 6.6,0a3.3,3.3 0 1,0 -6.6,0M160.54,147.84a3.3,3.3 0 1,0 6.6,0a3.3,3.3 0 1,0 -6.6,0M163.27,145.35a3.3,3.3 0 1,0 6.6,0a3.3,3.3 0 1,0 -6.6,0M165.98,142.86a3.3,3.3 0 1,0 6.6,0a3.3,3.3 0 1,0 -6.6,0M168.68,140.37a3.3,3.3 0 1,0 6.6,0a3.3,3.3 0 1,0 -6.6,0M171.38,137.88a3.3,3.3 0 1,0 6.6,0a3.3,3.3 0 1,0 -6.6,0M174.08,135.39a3.3,3.3 0 1,0 6.6,0a3.3,3.3 0 1,0 -6.6,0M176.75,132.90a3.3,3.3 0 1,0 6.6,0a3.3,3.3 0 1,0 -6.6,0M179.34,130.41a3.3,3.3 0 1,0 6.6,0a3.3,3.3 0 1,0 -6.6,0M181.83,127.92a3.3,3.3 0 1,0 6.6,0a3.3,3.3 0 1,0 -6.6,0M184.22,125.43a3.3,3.3 0 1,0 6.6,0a3.3,3.3 0 1,0 -6.6,0M186.59,122.94a3.3,3.3 0 1,0 6.6,0a3.3,3.3 0 1,0 -6.6,0M188.98,120.45a3.3,3.3 0 1,0 6.6,0a3.3,3.3 0 1,0 -6.6,0M191.43,117.96a3.3,3.3 0 1,0 6.6,0a3.3,3.3 0 1,0 -6.6,0M193.91,115.47a3.3,3.3 0 1,0 6.6,0a3.3,3.3 0 1,0 -6.6,0M196.41,112.98a3.3,3.3 0 1,0 6.6,0a3.3,3.3 0 1,0 -6.6,0M198.93,110.49a3.3,3.3 0 1,0 6.6,0a3.3,3.3 0 1,0 -6.6,0M201.49,108.00a3.3,3.3 0 1,0 6.6,0a3.3,3.3 0 1,0 -6.6,0M204.11,105.50a3.3,3.3 0 1,0 6.6,0a3.3,3.3 0 1,0 -6.6,0M206.72,103.01a3.3,3.3 0 1,0 6.6,0a3.3,3.3 0 1,0 -6.6,0M209.27,100.52a3.3,3.3 0 1,0 6.6,0a3.3,3.3 0 1,0 -6.6,0M211.72,98.03a3.3,3.3 0 1,0 6.6,0a3.3,3.3 0 1,0 -6.6,0M214.12,95.54a3.3,3.3 0 1,0 6.6,0a3.3,3.3 0 1,0 -6.6,0M216.47,93.05a3.3,3.3 0 1,0 6.6,0a3.3,3.3 0 1,0 -6.6,0M218.78,90.56a3.3,3.3 0 1,0 6.6,0a3.3,3.3 0 1,0 -6.6,0M221.07,88.07a3.3,3.3 0 1,0 6.6,0a3.3,3.3 0 1,0 -6.6,0M223.31,85.58a3.3,3.3 0 1,0 6.6,0a3.3,3.3 0 1,0 -6.6,0M225.53,83.09a3.3,3.3 0 1,0 6.6,0a3.3,3.3 0 1,0 -6.6,0M227.72,80.60a3.3,3.3 0 1,0 6.6,0a3.3,3.3 0 1,0 -6.6,0M229.88,78.11a3.3,3.3 0 1,0 6.6,0a3.3,3.3 0 1,0 -6.6,0M232.00,75.62a3.3,3.3 0 1,0 6.6,0a3.3,3.3 0 1,0 -6.6,0M234.10,73.13a3.3,3.3 0 1,0 6.6,0a3.3,3.3 0 1,0 -6.6,0M236.19,70.64a3.3,3.3 0 1,0 6.6,0a3.3,3.3 0 1,0 -6.6,0M238.26,68.15a3.3,3.3 0 1,0 6.6,0a3.3,3.3 0 1,0 -6.6,0M240.32,65.66a3.3,3.3 0 1,0 6.6,0a3.3,3.3 0 1,0 -6.6,0M242.36,63.17a3.3,3.3 0 1,0 6.6,0a3.3,3.3 0 1,0 -6.6,0M244.38,60.68a3.3,3.3 0 1,0 6.6,0a3.3,3.3 0 1,0 -6.6,0M246.36,58.19a3.3,3.3 0 1,0 6.6,0a3.3,3.3 0 1,0 -6.6,0M248.31,55.70a3.3,3.3 0 1,0 6.6,0a3.3,3.3 0 1,0 -6.6,0M250.24,53.20a3.3,3.3 0 1,0 6.6,0a3.3,3.3 0 1,0 -6.6,0M252.19,50.71a3.3,3.3 0 1,0 6.6,0a3.3,3.3 0 1,0 -6.6,0M254.15,48.22a3.3,3.3 0 1,0 6.6,0a3.3,3.3 0 1,0 -6.6,0M256.13,45.73a3.3,3.3 0 1,0 6.6,0a3.3,3.3 0 1,0 -6.6,0M258.11,43.24a3.3,3.3 0 1,0 6.6,0a3.3,3.3 0 1,0 -6.6,0M260.13,40.75a3.3,3.3 0 1,0 6.6,0a3.3,3.3 0 1,0 -6.6,0M262.17,38.26a3.3,3.3 0 1,0 6.6,0a3.3,3.3 0 1,0 -6.6,0M264.24,35.77a3.3,3.3 0 1,0 6.6,0a3.3,3.3 0 1,0 -6.6,0M266.34,33.28a3.3,3.3 0 1,0 6.6,0a3.3,3.3 0 1,0 -6.6,0M268.46,30.79a3.3,3.3 0 1,0 6.6,0a3.3,3.3 0 1,0 -6.6,0M270.60,28.30a3.3,3.3 0 1,0 6.6,0a3.3,3.3 0 1,0 -6.6,0M271.62,28.30a3.3,3.3 0 1,0 6.6,0a3.3,3.3 0 1,0 -6.6,0M272.35,28.30a3.3,3.3 0 1,0 6.6,0a3.3,3.3 0 1,0 -6.6,0M273.07,28.30a3.3,3.3 0 1,0 6.6,0a3.3,3.3 0 1,0 -6.6,0M273.80,28.30a3.3,3.3 0 1,0 6.6,0a3.3,3.3 0 1,0 -6.6,0M274.52,28.30a3.3,3.3 0 1,0 6.6,0a3.3,3.3 0 1,0 -6.6,0M275.25,28.30a3.3,3.3 0 1,0 6.6,0a3.3,3.3 0 1,0 -6.6,0M275.97,28.30a3.3,3.3 0 1,0 6.6,0a3.3,3.3 0 1,0 -6.6,0M276.70,28.30a3.3,3.3 0 1,0 6.6,0a3.3,3.3 0 1,0 -6.6,0M276.58,30.41a3.3,3.3 0 1,0 6.6,0a3.3,3.3 0 1,0 -6.6,0M276.45,32.51a3.3,3.3 0 1,0 6.6,0a3.3,3.3 0 1,0 -6.6,0M276.32,34.62a3.3,3.3 0 1,0 6.6,0a3.3,3.3 0 1,0 -6.6,0M276.20,36.73a3.3,3.3 0 1,0 6.6,0a3.3,3.3 0 1,0 -6.6,0M276.07,38.84a3.3,3.3 0 1,0 6.6,0a3.3,3.3 0 1,0 -6.6,0M275.95,40.94a3.3,3.3 0 1,0 6.6,0a3.3,3.3 0 1,0 -6.6,0M275.83,43.05a3.3,3.3 0 1,0 6.6,0a3.3,3.3 0 1,0 -6.6,0M275.70,45.16a3.3,3.3 0 1,0 6.6,0a3.3,3.3 0 1,0 -6.6,0M275.58,47.27a3.3,3.3 0 1,0 6.6,0a3.3,3.3 0 1,0 -6.6,0M275.46,49.37a3.3,3.3 0 1,0 6.6,0a3.3,3.3 0 1,0 -6.6,0M275.34,51.48a3.3,3.3 0 1,0 6.6,0a3.3,3.3 0 1,0 -6.6,0M275.22,53.59a3.3,3.3 0 1,0 6.6,0a3.3,3.3 0 1,0 -6.6,0M275.10,55.69a3.3,3.3 0 1,0 6.6,0a3.3,3.3 0 1,0 -6.6,0M274.98,57.80a3.3,3.3 0 1,0 6.6,0a3.3,3.3 0 1,0 -6.6,0M274.86,59.91a3.3,3.3 0 1,0 6.6,0a3.3,3.3 0 1,0 -6.6,0M274.74,62.02a3.3,3.3 0 1,0 6.6,0a3.3,3.3 0 1,0 -6.6,0M274.62,64.12a3.3,3.3 0 1,0 6.6,0a3.3,3.3 0 1,0 -6.6,0M274.50,66.23a3.3,3.3 0 1,0 6.6,0a3.3,3.3 0 1,0 -6.6,0M274.38,68.34a3.3,3.3 0 1,0 6.6,0a3.3,3.3 0 1,0 -6.6,0M274.26,70.45a3.3,3.3 0 1,0 6.6,0a3.3,3.3 0 1,0 -6.6,0M274.14,72.55a3.3,3.3 0 1,0 6.6,0a3.3,3.3 0 1,0 -6.6,0M274.02,74.66a3.3,3.3 0 1,0 6.6,0a3.3,3.3 0 1,0 -6.6,0M273.91,76.77a3.3,3.3 0 1,0 6.6,0a3.3,3.3 0 1,0 -6.6,0M273.79,78.87a3.3,3.3 0 1,0 6.6,0a3.3,3.3 0 1,0 -6.6,0M273.67,80.98a3.3,3.3 0 1,0 6.6,0a3.3,3.3 0 1,0 -6.6,0M273.55,83.09a3.3,3.3 0 1,0 6.6,0a3.3,3.3 0 1,0 -6.6,0M273.44,85.20a3.3,3.3 0 1,0 6.6,0a3.3,3.3 0 1,0 -6.6,0M273.32,87.30a3.3,3.3 0 1,0 6.6,0a3.3,3.3 0 1,0 -6.6,0M273.20,89.41a3.3,3.3 0 1,0 6.6,0a3.3,3.3 0 1,0 -6.6,0M273.09,91.52a3.3,3.3 0 1,0 6.6,0a3.3,3.3 0 1,0 -6.6,0M272.97,93.62a3.3,3.3 0 1,0 6.6,0a3.3,3.3 0 1,0 -6.6,0M272.85,95.73a3.3,3.3 0 1,0 6.6,0a3.3,3.3 0 1,0 -6.6,0M272.74,97.84a3.3,3.3 0 1,0 6.6,0a3.3,3.3 0 1,0 -6.6,0M272.62,99.95a3.3,3.3 0 1,0 6.6,0a3.3,3.3 0 1,0 -6.6,0M272.50,102.05a3.3,3.3 0 1,0 6.6,0a3.3,3.3 0 1,0 -6.6,0M272.39,104.16a3.3,3.3 0 1,0 6.6,0a3.3,3.3 0 1,0 -6.6,0M272.27,106.27a3.3,3.3 0 1,0 6.6,0a3.3,3.3 0 1,0 -6.6,0M272.16,108.38a3.3,3.3 0 1,0 6.6,0a3.3,3.3 0 1,0 -6.6,0M272.04,110.48a3.3,3.3 0 1,0 6.6,0a3.3,3.3 0 1,0 -6.6,0M271.92,112.59a3.3,3.3 0 1,0 6.6,0a3.3,3.3 0 1,0 -6.6,0M271.80,114.70a3.3,3.3 0 1,0 6.6,0a3.3,3.3 0 1,0 -6.6,0M271.69,116.80a3.3,3.3 0 1,0 6.6,0a3.3,3.3 0 1,0 -6.6,0M271.57,118.91a3.3,3.3 0 1,0 6.6,0a3.3,3.3 0 1,0 -6.6,0M271.45,121.02a3.3,3.3 0 1,0 6.6,0a3.3,3.3 0 1,0 -6.6,0M271.34,123.13a3.3,3.3 0 1,0 6.6,0a3.3,3.3 0 1,0 -6.6,0M271.22,125.23a3.3,3.3 0 1,0 6.6,0a3.3,3.3 0 1,0 -6.6,0M271.10,127.34a3.3,3.3 0 1,0 6.6,0a3.3,3.3 0 1,0 -6.6,0M270.98,129.45a3.3,3.3 0 1,0 6.6,0a3.3,3.3 0 1,0 -6.6,0M270.86,131.56a3.3,3.3 0 1,0 6.6,0a3.3,3.3 0 1,0 -6.6,0M270.74,133.66a3.3,3.3 0 1,0 6.6,0a3.3,3.3 0 1,0 -6.6,0M270.62,135.77a3.3,3.3 0 1,0 6.6,0a3.3,3.3 0 1,0 -6.6,0M270.51,137.88a3.3,3.3 0 1,0 6.6,0a3.3,3.3 0 1,0 -6.6,0M270.39,139.98a3.3,3.3 0 1,0 6.6,0a3.3,3.3 0 1,0 -6.6,0M270.27,142.09a3.3,3.3 0 1,0 6.6,0a3.3,3.3 0 1,0 -6.6,0M270.14,144.20a3.3,3.3 0 1,0 6.6,0a3.3,3.3 0 1,0 -6.6,0M270.02,146.31a3.3,3.3 0 1,0 6.6,0a3.3,3.3 0 1,0 -6.6,0M269.90,148.41a3.3,3.3 0 1,0 6.6,0a3.3,3.3 0 1,0 -6.6,0M269.78,150.52a3.3,3.3 0 1,0 6.6,0a3.3,3.3 0 1,0 -6.6,0M269.66,152.63a3.3,3.3 0 1,0 6.6,0a3.3,3.3 0 1,0 -6.6,0M269.53,154.74a3.3,3.3 0 1,0 6.6,0a3.3,3.3 0 1,0 -6.6,0M269.41,156.84a3.3,3.3 0 1,0 6.6,0a3.3,3.3 0 1,0 -6.6,0M269.29,158.95a3.3,3.3 0 1,0 6.6,0a3.3,3.3 0 1,0 -6.6,0M269.16,161.06a3.3,3.3 0 1,0 6.6,0a3.3,3.3 0 1,0 -6.6,0M269.04,163.16a3.3,3.3 0 1,0 6.6,0a3.3,3.3 0 1,0 -6.6,0M268.91,165.27a3.3,3.3 0 1,0 6.6,0a3.3,3.3 0 1,0 -6.6,0M268.79,167.38a3.3,3.3 0 1,0 6.6,0a3.3,3.3 0 1,0 -6.6,0M268.66,169.49a3.3,3.3 0 1,0 6.6,0a3.3,3.3 0 1,0 -6.6,0M268.53,171.59a3.3,3.3 0 1,0 6.6,0a3.3,3.3 0 1,0 -6.6,0M268.40,173.70a3.3,3.3 0 1,0 6.6,0a3.3,3.3 0 1,0 -6.6,0M268.27,175.81a3.3,3.3 0 1,0 6.6,0a3.3,3.3 0 1,0 -6.6,0M268.14,177.92a3.3,3.3 0 1,0 6.6,0a3.3,3.3 0 1,0 -6.6,0M268.01,180.02a3.3,3.3 0 1,0 6.6,0a3.3,3.3 0 1,0 -6.6,0M267.88,182.13a3.3,3.3 0 1,0 6.6,0a3.3,3.3 0 1,0 -6.6,0M267.75,184.24a3.3,3.3 0 1,0 6.6,0a3.3,3.3 0 1,0 -6.6,0M267.62,186.34a3.3,3.3 0 1,0 6.6,0a3.3,3.3 0 1,0 -6.6,0M267.48,188.45a3.3,3.3 0 1,0 6.6,0a3.3,3.3 0 1,0 -6.6,0M267.34,190.56a3.3,3.3 0 1,0 6.6,0a3.3,3.3 0 1,0 -6.6,0M267.21,192.67a3.3,3.3 0 1,0 6.6,0a3.3,3.3 0 1,0 -6.6,0M267.06,194.77a3.3,3.3 0 1,0 6.6,0a3.3,3.3 0 1,0 -6.6,0M266.92,196.88a3.3,3.3 0 1,0 6.6,0a3.3,3.3 0 1,0 -6.6,0M266.77,198.99a3.3,3.3 0 1,0 6.6,0a3.3,3.3 0 1,0 -6.6,0M266.62,201.10a3.3,3.3 0 1,0 6.6,0a3.3,3.3 0 1,0 -6.6,0M266.46,203.20a3.3,3.3 0 1,0 6.6,0a3.3,3.3 0 1,0 -6.6,0M266.30,205.31a3.3,3.3 0 1,0 6.6,0a3.3,3.3 0 1,0 -6.6,0M266.13,207.42a3.3,3.3 0 1,0 6.6,0a3.3,3.3 0 1,0 -6.6,0M265.96,209.52a3.3,3.3 0 1,0 6.6,0a3.3,3.3 0 1,0 -6.6,0M265.79,211.63a3.3,3.3 0 1,0 6.6,0a3.3,3.3 0 1,0 -6.6,0M265.60,213.74a3.3,3.3 0 1,0 6.6,0a3.3,3.3 0 1,0 -6.6,0M265.42,215.85a3.3,3.3 0 1,0 6.6,0a3.3,3.3 0 1,0 -6.6,0M265.22,217.95a3.3,3.3 0 1,0 6.6,0a3.3,3.3 0 1,0 -6.6,0M265.02,220.06a3.3,3.3 0 1,0 6.6,0a3.3,3.3 0 1,0 -6.6,0M264.81,222.17a3.3,3.3 0 1,0 6.6,0a3.3,3.3 0 1,0 -6.6,0M264.60,224.28a3.3,3.3 0 1,0 6.6,0a3.3,3.3 0 1,0 -6.6,0M264.38,226.38a3.3,3.3 0 1,0 6.6,0a3.3,3.3 0 1,0 -6.6,0M264.15,228.49a3.3,3.3 0 1,0 6.6,0a3.3,3.3 0 1,0 -6.6,0M263.91,230.60a3.3,3.3 0 1,0 6.6,0a3.3,3.3 0 1,0 -6.6,0M263.66,232.70a3.3,3.3 0 1,0 6.6,0a3.3,3.3 0 1,0 -6.6,0M263.40,234.81a3.3,3.3 0 1,0 6.6,0a3.3,3.3 0 1,0 -6.6,0M263.14,236.92a3.3,3.3 0 1,0 6.6,0a3.3,3.3 0 1,0 -6.6,0M262.86,239.03a3.3,3.3 0 1,0 6.6,0a3.3,3.3 0 1,0 -6.6,0M262.58,241.13a3.3,3.3 0 1,0 6.6,0a3.3,3.3 0 1,0 -6.6,0M262.28,243.24a3.3,3.3 0 1,0 6.6,0a3.3,3.3 0 1,0 -6.6,0M261.98,245.35a3.3,3.3 0 1,0 6.6,0a3.3,3.3 0 1,0 -6.6,0M261.66,247.45a3.3,3.3 0 1,0 6.6,0a3.3,3.3 0 1,0 -6.6,0M261.33,249.56a3.3,3.3 0 1,0 6.6,0a3.3,3.3 0 1,0 -6.6,0M260.99,251.67a3.3,3.3 0 1,0 6.6,0a3.3,3.3 0 1,0 -6.6,0M260.64,253.78a3.3,3.3 0 1,0 6.6,0a3.3,3.3 0 1,0 -6.6,0M260.28,255.88a3.3,3.3 0 1,0 6.6,0a3.3,3.3 0 1,0 -6.6,0M259.90,257.99a3.3,3.3 0 1,0 6.6,0a3.3,3.3 0 1,0 -6.6,0M259.51,260.10a3.3,3.3 0 1,0 6.6,0a3.3,3.3 0 1,0 -6.6,0M259.11,262.21a3.3,3.3 0 1,0 6.6,0a3.3,3.3 0 1,0 -6.6,0M258.69,264.31a3.3,3.3 0 1,0 6.6,0a3.3,3.3 0 1,0 -6.6,0M258.26,266.42a3.3,3.3 0 1,0 6.6,0a3.3,3.3 0 1,0 -6.6,0M257.82,268.53a3.3,3.3 0 1,0 6.6,0a3.3,3.3 0 1,0 -6.6,0M257.36,270.63a3.3,3.3 0 1,0 6.6,0a3.3,3.3 0 1,0 -6.6,0M256.88,272.74a3.3,3.3 0 1,0 6.6,0a3.3,3.3 0 1,0 -6.6,0M256.40,274.85a3.3,3.3 0 1,0 6.6,0a3.3,3.3 0 1,0 -6.6,0M255.89,276.96a3.3,3.3 0 1,0 6.6,0a3.3,3.3 0 1,0 -6.6,0M255.37,279.06a3.3,3.3 0 1,0 6.6,0a3.3,3.3 0 1,0 -6.6,0M254.84,281.17a3.3,3.3 0 1,0 6.6,0a3.3,3.3 0 1,0 -6.6,0M254.28,283.28a3.3,3.3 0 1,0 6.6,0a3.3,3.3 0 1,0 -6.6,0M253.71,285.39a3.3,3.3 0 1,0 6.6,0a3.3,3.3 0 1,0 -6.6,0M253.13,287.49a3.3,3.3 0 1,0 6.6,0a3.3,3.3 0 1,0 -6.6,0M252.52,289.60a3.3,3.3 0 1,0 6.6,0a3.3,3.3 0 1,0 -6.6,0" fill="none" stroke="#ff0000" stroke-width="1.4"/>

<path d="M163.7,133.1H193.8M223,133.1H241.5M259.7,159.1H293M314,159.1H335.5" stroke="#0000ff" stroke-width="1.6" fill="none"/>
<text transform="translate(30.5,295.40) scale(1,1.09)" text-anchor="end" font-family="Liberation Sans" font-weight="bold" font-size="15">0</text>
<text transform="translate(30.5,243.20) scale(1,1.09)" text-anchor="end" font-family="Liberation Sans" font-weight="bold" font-size="15">2</text>
<text transform="translate(30.5,191.00) scale(1,1.09)" text-anchor="end" font-family="Liberation Sans" font-weight="bold" font-size="15">4</text>
<text transform="translate(30.5,138.80) scale(1,1.09)" text-anchor="end" font-family="Liberation Sans" font-weight="bold" font-size="15">6</text>
<text transform="translate(30.5,86.60) scale(1,1.09)" text-anchor="end" font-family="Liberation Sans" font-weight="bold" font-size="15">8</text>
<path transform="translate(13.82,34.40) scale(0.007324,-0.007983)" d="M478,0L478,1170L140,959L140,1180L493,1409L759,1409L759,0Z" fill="#000"/>
<text transform="translate(22.16,34.40) scale(1,1.09)" font-family="Liberation Sans" font-weight="bold" font-size="15">0</text>
<text transform="translate(34,307.8) scale(1,1.09)" text-anchor="middle" font-family="Liberation Sans" font-weight="bold" font-size="15">0</text>
<text transform="translate(98,307.8) scale(1,1.09)" text-anchor="middle" font-family="Liberation Sans" font-weight="bold" font-size="15">0.2</text>
<text transform="translate(162,307.8) scale(1,1.09)" text-anchor="middle" font-family="Liberation Sans" font-weight="bold" font-size="15">0.4</text>
<text transform="translate(226,307.8) scale(1,1.09)" text-anchor="middle" font-family="Liberation Sans" font-weight="bold" font-size="15">0.6</text>
<text transform="translate(290,307.8) scale(1,1.09)" text-anchor="middle" font-family="Liberation Sans" font-weight="bold" font-size="15">0.8</text>
<path transform="translate(349.83,307.8) scale(0.007324,-0.007983)" d="M478,0L478,1170L140,959L140,1180L493,1409L759,1409L759,0Z" fill="#000"/>
<text transform="translate(193.8,324.2) scale(1,1.09)" text-anchor="middle" font-family="Liberation Sans" font-weight="bold" font-size="15">Displacement, h (μm)</text>
<text transform="translate(13.1,148.6) rotate(-90)" text-anchor="middle" font-family="Liberation Sans" font-weight="bold" font-size="15.5">Load, P (mN)</text>
<text transform="translate(151.1,180.3) rotate(-40)" font-family="Liberation Sans" font-weight="bold" font-size="12.7" stroke="#000" stroke-width="0.25">PAA+Cu</text>
<text transform="translate(175.5,191.6) rotate(-34)" font-family="Liberation Sans" font-weight="bold" font-size="13" stroke="#000" stroke-width="0.25">PAA</text>
</svg>
</body></html>
